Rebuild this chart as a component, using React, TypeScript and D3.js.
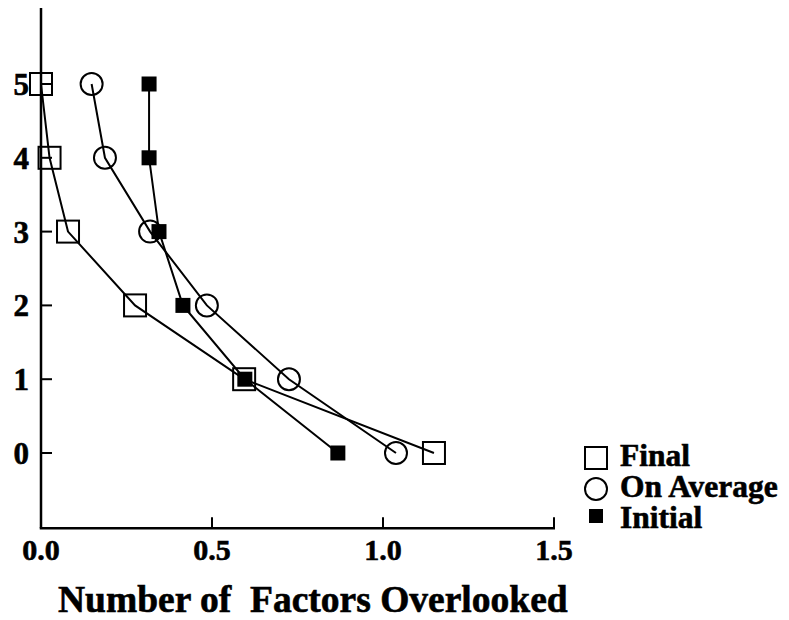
import React from "react";
import * as d3 from "d3";

const levels = [0, 1, 2, 3, 4, 5];
const finalVals = [1.149, 0.594, 0.275, 0.079, 0.025, 0.0];
const averageVals = [1.038, 0.725, 0.485, 0.319, 0.187, 0.148];
const initialVals = [0.868, 0.596, 0.415, 0.345, 0.316, 0.316];
const xTicks = [0, 0.5, 1.0, 1.5];
const yTicks = [0, 1, 2, 3, 4, 5];
const legendLabels = ["Final", "On Average", "Initial"];
const xTitle = "Number of  Factors Overlooked";

export default function App() {
  const W = 789, H = 620;
  const x = d3.scaleLinear().domain([0, 1.5]).range([41, 554]);
  const y = d3.scaleLinear().domain([0, 5]).range([453, 84]);
  const font = "Liberation Serif, Times New Roman, Times, DejaVu Serif, serif";
  const line = d3.line<[number, number]>().x(d => x(d[0])).y(d => y(d[1]));
  const pts = (vals: number[]) => vals.map((v, i) => [v, levels[i]] as [number, number]);
  const axisTop = y(6.03);
  const axisBottom = y(-1.02);
  const ts = (size: number) => ({
    fontFamily: font,
    fontWeight: 700,
    fontSize: size + "px",
    stroke: "#000",
    strokeWidth: 0.6,
  });

  return (
    <svg width={W} height={H} style={{ position: "absolute", left: 0, top: 0, background: "#fff" }}>
      <rect width={W} height={H} fill="#fff" />
      {/* axes */}
      <line x1={x(0)} x2={x(0)} y1={axisTop} y2={axisBottom} stroke="#000" strokeWidth={2.5} />
      <line x1={x(0) - 1.25} x2={x(1.5) + 1} y1={axisBottom} y2={axisBottom} stroke="#000" strokeWidth={2.5} />
      {xTicks.map(t => (
        <g key={"xt" + t}>
          <line x1={x(t)} x2={x(t)} y1={axisBottom} y2={axisBottom - 11} stroke="#000" strokeWidth={2} />
          <text x={x(t)} y={560} textAnchor="middle" style={ts(30)}>
            {t.toFixed(1)}
          </text>
        </g>
      ))}
      {yTicks.map(t => (
        <g key={"yt" + t}>
          <line x1={x(0)} x2={x(0) + 11} y1={y(t)} y2={y(t)} stroke="#000" strokeWidth={2} />
          <text x={29} y={y(t) + 11} textAnchor="end" style={ts(31)}>
            {t}
          </text>
        </g>
      ))}
      {/* lines */}
      <path d={line(pts(finalVals)) || ""} fill="none" stroke="#000" strokeWidth={2} />
      <path d={line(pts(averageVals)) || ""} fill="none" stroke="#000" strokeWidth={2} />
      <path d={line(pts(initialVals)) || ""} fill="none" stroke="#000" strokeWidth={2} />
      {/* markers */}
      {finalVals.map((v, i) => (
        <rect key={"f" + i} x={x(v) - 11} y={y(levels[i]) - 11} width={22} height={22} fill="none" stroke="#000" strokeWidth={2} />
      ))}
      {averageVals.map((v, i) => (
        <circle key={"a" + i} cx={x(v)} cy={y(levels[i])} r={11} fill="none" stroke="#000" strokeWidth={2} />
      ))}
      {initialVals.map((v, i) => (
        <rect key={"i" + i} x={x(v) - 7.5} y={y(levels[i]) - 7.5} width={15} height={15} fill="#000" />
      ))}
      {/* legend */}
      <rect x={585} y={447} width={22} height={22} fill="none" stroke="#000" strokeWidth={2} />
      <circle cx={596} cy={489} r={11} fill="none" stroke="#000" strokeWidth={2} />
      <rect x={589} y={509} width={14} height={14} fill="#000" />
      {legendLabels.map((l, i) => (
        <text key={l} x={620} y={466 + i * 31} style={ts(31.5)}>
          {l}
        </text>
      ))}
      <text x={58} y={612} style={{ ...ts(37.5), whiteSpace: "pre" }}>
        {xTitle}
      </text>
    </svg>
  );
}
